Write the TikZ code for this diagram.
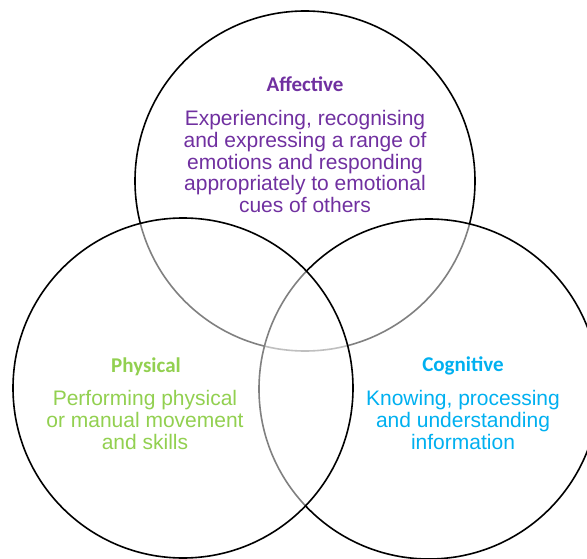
\documentclass[tikz,border=0pt]{standalone}
\usepackage{fontspec}
\setmainfont{Liberation Sans}
\newfontfamily\titlefont{Carlito}
\definecolor{affpurple}{HTML}{7030A0}
\definecolor{physgreen}{HTML}{92D050}
\definecolor{cogblue}{HTML}{00B0F0}
\tikzset{
	venn/.style = {circle, draw=black, line width=1.6pt, inner sep=0pt,
		minimum size=340pt},% cercle du diagramme
	venn_w/.style = {venn, fill=white, fill opacity=0.5},% cercle voile blanc
	vtitle/.style = {anchor=base, inner sep=0pt,
		font=\titlefont\bfseries\fontsize{21}{24}\selectfont},% titre
	vtext/.style = {anchor=north, inner sep=0pt, align=center,
		font=\fontsize{21}{21.8}\selectfont}% texte du domaine
}
\begin{document}
\begin{tikzpicture}[x=1pt,y=-1pt]
\useasboundingbox (0,0) rectangle (587,559);
\node [venn] (affective) at (305,181) {};
\node [venn_w] (cognitive) at (429,389) {};
\node [venn_w] (physical) at (183,388) {};

\node [vtitle, affpurple] (aff_t) at (305,92) {Affective};
\node [vtext, affpurple] (aff_x) at (305,110) {Experiencing, recognising\\
	and expressing a range of\\ emotions and responding\\
	appropriately to emotional\\ cues of others};

\node [vtitle, physgreen] (phys_t) at (146,372) {Physical};
\node [vtext, physgreen] (phys_x) at (145,390) {Performing physical\\
	or manual movement\\ and skills};

\node [vtitle, cogblue] (cog_t) at (463,371) {Cognitive};
\node [vtext, cogblue] (cog_x) at (463,390) {Knowing, processing\\
	and understanding\\ information};
\end{tikzpicture}
\end{document}
